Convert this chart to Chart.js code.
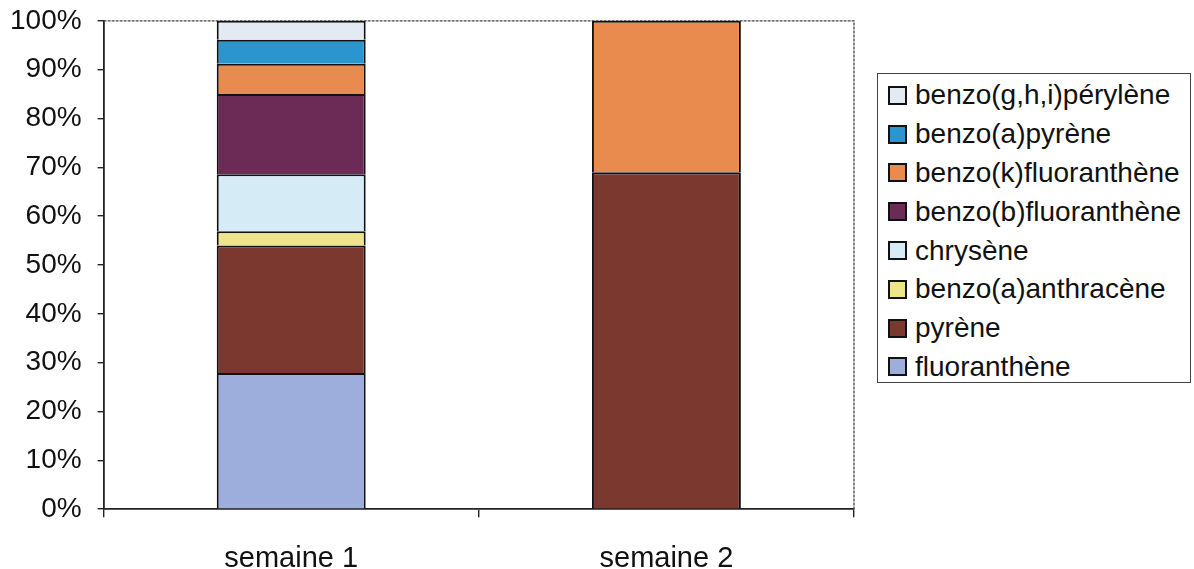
<!DOCTYPE html>
<html>
<head>
<meta charset="utf-8">
<script src="https://cdn.jsdelivr.net/npm/chart.js@4.4.0/dist/chart.umd.min.js"></script>
<style>
  html, body { margin: 0; padding: 0; background: #fff; overflow: hidden; }
  body { width: 1194px; height: 569px; position: relative; font-family: "Liberation Sans", Arial, sans-serif; }
  #wrap { position: absolute; left: 0; top: -12px; width: 870px; height: 620px; }
  #legende {
    position: absolute; left: 877px; top: 73px; width: 314px; height: 310px;
    border: 1px solid #444; box-sizing: border-box; padding-top: 2px;
  }
  .item { display: flex; align-items: center; height: 38.8px; font-size: 28px; color: #111; }
  .mk { width: 15px; height: 15px; border: 2px solid #111; margin-left: 10px; margin-right: 8px; flex: none; }
</style>
</head>
<body>
<div id="wrap"><canvas id="graphique" width="870" height="620"></canvas></div>
<div id="legende"></div>
<script>
// Catégories (semaines)
const semaines = ['semaine 1', 'semaine 2'];

// Composés (de bas en haut dans la pile)
const composes = ['fluoranthène', 'pyrène', 'benzo(a)anthracène', 'chrysène',
  'benzo(b)fluoranthène', 'benzo(k)fluoranthène', 'benzo(a)pyrène', 'benzo(g,h,i)pérylène'];

// Parts en % pour chaque semaine (null = absent)
const fluoranthene = [27.9, null];
const pyrene = [26.1, 69.0];
const benzoAAnthracene = [2.9, null];
const chrysene = [11.7, null];
const benzoBFluoranthene = [16.4, null];
const benzoKFluoranthene = [6.2, 31.0];
const benzoAPyrene = [4.9, null];
const benzoGHIPerylene = [3.9, null];

const couleurs = ['#9eaedc', '#7a382e', '#eee58a', '#d5ebf5',
  '#6b2b56', '#e98a4e', '#2a95cf', '#e4eaf4'];

const graduations = [0, 10, 20, 30, 40, 50, 60, 70, 80, 90, 100];

const series = [fluoranthene, pyrene, benzoAAnthracene, chrysene,
  benzoBFluoranthene, benzoKFluoranthene, benzoAPyrene, benzoGHIPerylene];

const datasets = composes.map((nom, i) => ({
  label: nom,
  data: series[i],
  backgroundColor: couleurs[i],
  borderColor: '#111',
  borderWidth: 2,
  categoryPercentage: 1,
  barPercentage: 0.397
}));

// Cadre pointillé en haut et à droite de la zone de tracé
const cadre = {
  id: 'cadre',
  beforeDatasetsDraw(chart) {
    const a = chart.chartArea;
    const ctx = chart.ctx;
    ctx.save();
    ctx.strokeStyle = '#444';
    ctx.lineWidth = 1.3;
    ctx.setLineDash([3, 1]);
    ctx.beginPath();
    ctx.moveTo(a.left, a.top);
    ctx.lineTo(a.right, a.top);
    ctx.lineTo(a.right, a.bottom);
    ctx.stroke();
    ctx.restore();
  }
};

const ctx = document.getElementById('graphique').getContext('2d');
const myChart = new Chart(ctx, {
  type: 'bar',
  data: { labels: semaines, datasets: datasets },
  plugins: [cadre],
  options: {
    responsive: false,
    animation: false,
    layout: { padding: { top: 8, left: -6, right: 16, bottom: 8 } },
    plugins: { legend: { display: false }, tooltip: { enabled: false } },
    scales: {
      x: {
        stacked: true,
        grid: { display: true, drawOnChartArea: false, drawTicks: true, tickLength: 8, offset: true, color: '#222', lineWidth: 1.4 },
        border: { display: true, color: '#222', width: 1.8 },
        ticks: { color: '#111', padding: 24, font: { family: 'Liberation Sans', size: 29 } }
      },
      y: {
        stacked: true,
        min: 0,
        max: 100,
        afterBuildTicks: (axis) => { axis.ticks = graduations.map(v => ({ value: v })); },
        grid: { display: true, drawOnChartArea: false, drawTicks: true, tickLength: 6, color: '#222', lineWidth: 1.4 },
        border: { display: true, color: '#222', width: 1.8 },
        ticks: { color: '#111', padding: 16, font: { family: 'Liberation Sans', size: 28 }, callback: v => v + '%' }
      }
    }
  }
});

// Légende (ordre inversé, comme dans l'original)
const legende = document.getElementById('legende');
for (let i = composes.length - 1; i >= 0; i--) {
  const ligne = document.createElement('div');
  ligne.className = 'item';
  const mk = document.createElement('span');
  mk.className = 'mk';
  mk.style.background = couleurs[i];
  const txt = document.createElement('span');
  txt.textContent = composes[i];
  ligne.appendChild(mk);
  ligne.appendChild(txt);
  legende.appendChild(ligne);
}
</script>
</body>
</html>
